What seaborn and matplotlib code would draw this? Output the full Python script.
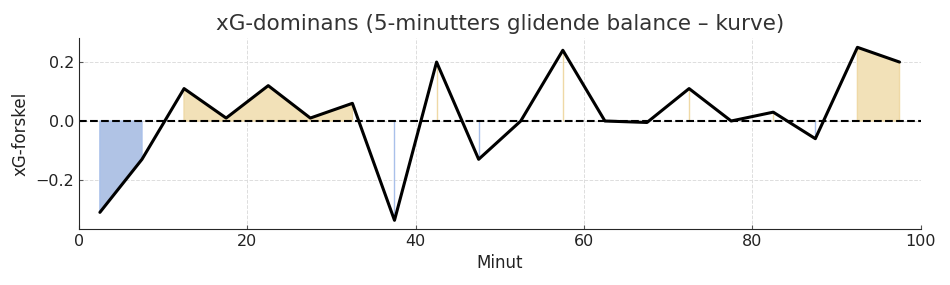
import numpy as np
import pandas as pd
import matplotlib
matplotlib.use("Agg")
import matplotlib.pyplot as plt
import seaborn as sns

minutes = [2.5, 7.5, 12.5, 17.5, 22.5, 27.5, 32.5, 37.5, 42.5, 47.5,
           52.5, 57.5, 62.5, 67.5, 72.5, 77.5, 82.5, 87.5, 92.5, 97.5]
xg_diff = [-0.31, -0.13, 0.11, 0.01, 0.12, 0.01, 0.06, -0.337, 0.20, -0.13,
           0.0, 0.24, 0.0, -0.005, 0.11, 0.0, 0.03, -0.06, 0.25, 0.20]

title = "xG-dominans (5-minutters glidende balance – kurve)"
xlabel = "Minut"
ylabel = "xG-forskel"

df = pd.DataFrame({"Minut": minutes, "diff": xg_diff})

sns.set_style("ticks")
plt.rcParams['font.family'] = ['DejaVu Sans']

fig, ax = plt.subplots(figsize=(9.5, 2.85), dpi=100)
fig.subplots_adjust(left=0.083, right=0.969, top=0.866, bottom=0.197)

x = df["Minut"].to_numpy()
y = df["diff"].to_numpy()
ax.fill_between(x, 0, y, where=y > 0, facecolor="#f2e1b8", edgecolor="#efd9a6", linewidth=1)
ax.fill_between(x, 0, y, where=y < 0, facecolor="#b0c3e5", edgecolor="#a9c0ea", linewidth=1)
sns.lineplot(data=df, x="Minut", y="diff", ax=ax, color="black", linewidth=2.2)
ax.axhline(0, color="black", linestyle="--", linewidth=1.5)

ax.set_xlim(0, 100)
ax.set_ylim(-0.366, 0.281)
ax.set_yticks([-0.2, 0.0, 0.2])
ax.set_xticks([0, 20, 40, 60, 80, 100])
ax.grid(True, linestyle="--", color="#dddddd", linewidth=0.7)
ax.set_axisbelow(True)
sns.despine(ax=ax)
ax.tick_params(direction="in", length=3, labelsize=11.5, colors="#555555", labelcolor="#222222")
ax.set_title(title, fontsize=15.5, color="#333333")
ax.set_xlabel(xlabel, fontsize=12, color="#222222")
ax.set_ylabel(ylabel, fontsize=12, color="#222222")

fig.savefig("out.png", dpi=100)
